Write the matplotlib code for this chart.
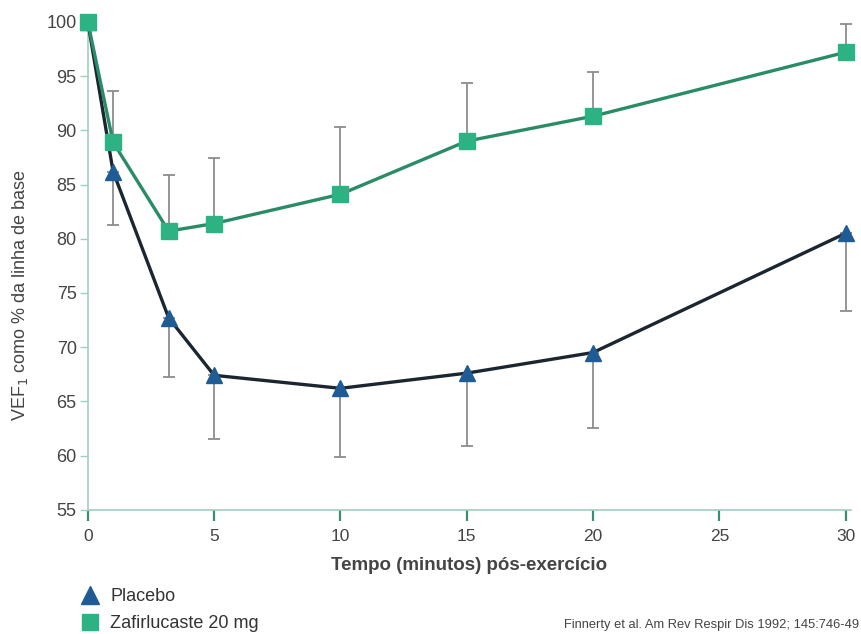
import matplotlib.pyplot as plt
from matplotlib.lines import Line2D

plt.rcParams['font.family'] = ['Liberation Sans', 'DejaVu Sans']

# tempo (minutos) pós-exercício
tempo = [0, 1, 3.2, 5, 10, 15, 20, 30]

# Zafirlucaste 20 mg: média e barra superior
zafir = [100, 88.9, 80.7, 81.4, 84.1, 89.0, 91.3, 97.2]
zafir_sup = [100, 93.6, 85.9, 87.4, 90.3, 94.4, 95.4, 99.8]

# Placebo: média e barra inferior
placebo = [100, 86.2, 72.7, 67.4, 66.2, 67.6, 69.5, 80.5]
placebo_inf = [100, 81.3, 67.2, 61.5, 59.9, 60.9, 62.5, 73.3]

xticks = [0, 5, 10, 15, 20, 25, 30]
yticks = [55, 60, 65, 70, 75, 80, 85, 90, 95, 100]

verde = '#2db383'
verde_linha = '#2a8c66'
azul = '#1f5c96'
escuro = '#1b2631'
cinza = '#8c8c8c'
eixo = '#9fcfbd'

fig = plt.figure(figsize=(8.61, 6.34), dpi=100)
ax = fig.add_axes([0.102, 0.196, 0.886, 0.778])

err_p = [[m - b for m, b in zip(placebo, placebo_inf)], [0] * len(placebo)]
err_z = [[0] * len(zafir), [t - m for m, t in zip(zafir, zafir_sup)]]

ax.errorbar(tempo[1:], placebo[1:], yerr=[e[1:] for e in err_p], fmt='none',
            ecolor=cinza, elinewidth=1.3, capsize=4, capthick=1.3, zorder=1)
ax.errorbar(tempo[1:], zafir[1:], yerr=[e[1:] for e in err_z], fmt='none',
            ecolor=cinza, elinewidth=1.3, capsize=4, capthick=1.3, zorder=1)

ax.plot(tempo, placebo, color=escuro, lw=2.4, marker='^', ms=12,
        mfc=azul, mec=azul, zorder=3, clip_on=False)
ax.plot(tempo, zafir, color=verde_linha, lw=2.4, marker='s', ms=11,
        mfc=verde, mec=verde, zorder=4, clip_on=False)

ax.set_xlim(0, 30.2)
ax.set_ylim(55, 100.5)
ax.set_xticks(xticks)
ax.set_yticks(yticks)

for s in ['top', 'right']:
    ax.spines[s].set_visible(False)
for s in ['left', 'bottom']:
    ax.spines[s].set_color(eixo)
    ax.spines[s].set_linewidth(1.2)

ax.tick_params(axis='x', colors='#3a8f6e', length=8, width=1.6, labelsize=12.5,
               labelcolor='#444444', pad=6)
ax.tick_params(axis='y', colors=eixo, length=6, width=1, labelsize=13,
               labelcolor='#444444', pad=2)

ax.set_xlabel('Tempo (minutos) pós-exercício', fontsize=13.5, fontweight='bold',
              color='#444444', labelpad=9)
ax.set_ylabel('VEF$_1$ como % da linha de base', fontsize=13, color='#444444')
ax.yaxis.set_label_coords(-0.076, 0.436)

handles = [
    Line2D([], [], ls='none', marker='^', ms=13, mfc=azul, mec=azul),
    Line2D([], [], ls='none', marker='s', ms=11, mfc=verde, mec=verde),
]
fig.legend(handles, ['Placebo', 'Zafirlucaste 20 mg'], loc='upper left',
           bbox_to_anchor=(0.0964, 0.0726), frameon=False, fontsize=13,
           handletextpad=0.7, labelspacing=0.55, borderaxespad=0, borderpad=0,
           handlelength=0.8, labelcolor='#333333')

fig.text(0.998, 0.004, 'Finnerty et al. Am Rev Respir Dis 1992; 145:746-49',
         fontsize=9.3, color='#444444', ha='right', va='bottom')

fig.savefig('out.png', dpi=100)
